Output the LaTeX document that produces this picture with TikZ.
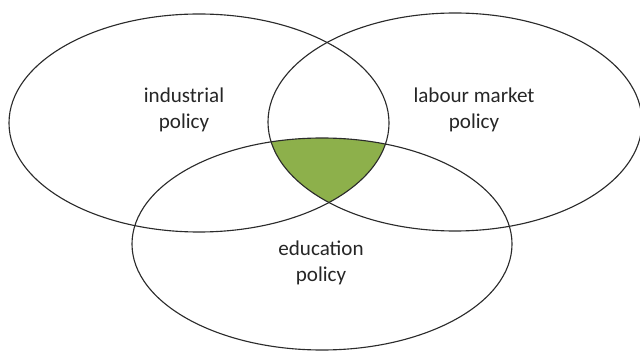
\documentclass[tikz,border=0pt]{standalone}
\usepackage{fontspec}
\setmainfont{Carlito}
\usetikzlibrary{shapes.geometric}
\definecolor{ink}{HTML}{2B2B2B}
\definecolor{txt}{HTML}{262626}
\definecolor{core}{HTML}{8DB04B}
\tikzset{
  every picture/.style={line cap=round, line join=round},
  setline/.style={draw=ink, line width=0.8pt},
  setlbl/.style={font=\fontsize{15}{18.5}\selectfont, text=txt, align=center},
}
\begin{document}
\begin{tikzpicture}
  \useasboundingbox (0,0) rectangle (16,8.775);
  % centres of the three sets
  \coordinate (ind) at (4.975,5.7);
  \coordinate (lab) at (11.375,5.725);
  \coordinate (edu) at (8.05,2.675);
  % common core of all three
  \begin{scope}
    \clip (ind) ellipse [x radius=4.75cm, y radius=2.725cm];
    \clip (lab) ellipse [x radius=4.675cm, y radius=2.725cm];
    \fill[core] (edu) ellipse [x radius=4.75cm, y radius=2.65cm];
  \end{scope}
  % sets
  \draw[setline] (ind) ellipse [x radius=4.75cm, y radius=2.725cm];
  \draw[setline] (lab) ellipse [x radius=4.675cm, y radius=2.725cm];
  \draw[setline] (edu) ellipse [x radius=4.75cm, y radius=2.65cm];
  % labels
  \node[setlbl] (indlbl) at (4.6,6.025) {industrial\\ policy};
  \node[setlbl] (lablbl) at (11.85,6.025) {labour market\\ policy};
  \node[setlbl] (edulbl) at (8.025,2.2) {education\\ policy};
\end{tikzpicture}
\end{document}
